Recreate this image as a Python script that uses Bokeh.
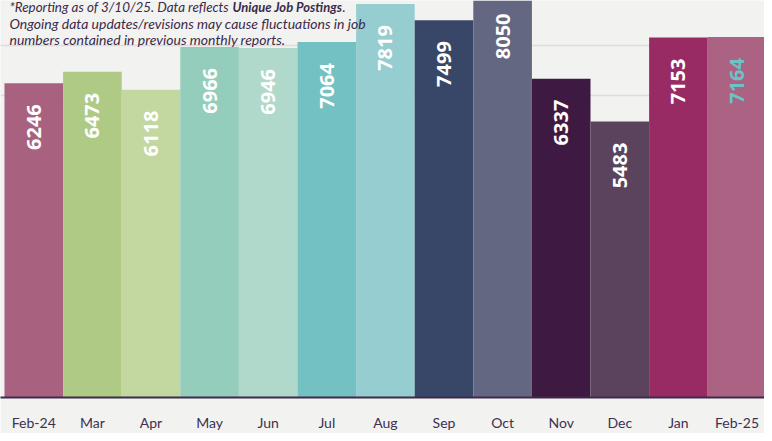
import math
from bokeh.plotting import figure
from bokeh.models import ColumnDataSource, Range1d, FixedTicker, Label
from bokeh.core.properties import value
from bokeh.embed import file_html
from bokeh.resources import INLINE

months = ["Feb-24", "Mar", "Apr", "May", "Jun", "Jul", "Aug", "Sep", "Oct", "Nov", "Dec", "Jan", "Feb-25"]
postings = [6246, 6473, 6118, 6966, 6946, 7064, 7819, 7499, 8050, 6337, 5483, 7153, 7164]
bar_colors = ["#a8617f", "#afca85", "#c2d8a0", "#94cdbc", "#b0d9cb", "#74c1c3", "#95cdd0",
              "#384767", "#636782", "#3e1a42", "#5b435e", "#982b63", "#ab6283"]
label_colors = ["white"] * 12 + ["#6cc3c6"]
grid_values = [6000, 7000]

xs = list(range(len(months)))
src = ColumnDataSource(dict(x=xs, top=postings, color=bar_colors,
                            label=[str(v) for v in postings], lcolor=label_colors))

BG = "#f2f2f0"
p = figure(width=764, height=433, output_backend="svg", toolbar_location=None,
           x_range=Range1d(-0.568, 12.469), y_range=Range1d(0, 7890),
           min_border_left=0, min_border_right=0, min_border_top=0, min_border_bottom=36)
p.background_fill_color = BG
p.border_fill_color = BG
p.outline_line_color = None

p.vbar(x="x", top="top", bottom=0, width=1.0, color="color", line_color=None, source=src)
p.text(x="x", y="top", text="label", text_color="lcolor", angle=math.pi / 2,
       text_align="right", text_baseline="middle", y_offset=21,
       text_font=value("Open Sans"), text_font_style="bold", text_font_size="20px", source=src)

p.yaxis.visible = False
p.ygrid.ticker = FixedTicker(ticks=grid_values)
p.ygrid.grid_line_color = "#dcdcdc"
p.ygrid.grid_line_width = 1.5
p.xgrid.visible = False

ax = p.xaxis[0]
ax.ticker = FixedTicker(ticks=xs)
ax.major_label_overrides = {i: m for i, m in enumerate(months)}
ax.major_tick_line_color = None
ax.minor_tick_line_color = None
ax.axis_line_color = "#3d2b4a"
ax.axis_line_width = 2
ax.major_label_standoff = 10
ax.major_label_text_font = "Lato"
ax.major_label_text_font_size = "14px"
ax.major_label_text_color = "#3d3050"

note_color = "#3b2a4a"
k = 0.05032
def ydata(page_y):
    return (405.5 - page_y) / k
def xdata(page_x):
    return -0.5 + (page_x - 12) / 58.6

common = dict(text_font="Lato", text_color=note_color, text_baseline="alphabetic")
p.add_layout(Label(x=xdata(17), y=ydata(15), text="*Reporting as of 3/10/25. Data reflects",
                   text_font_style="italic", text_font_size="13.4px", **common))
p.add_layout(Label(x=xdata(240), y=ydata(15), text="Unique Job Postings",
                   text_font_style="bold italic", text_font_size="13px", **common))
p.add_layout(Label(x=xdata(350), y=ydata(15), text=".",
                   text_font_style="italic", text_font_size="13.4px", **common))
p.add_layout(Label(x=xdata(17), y=ydata(31),
                   text="Ongoing data updates/revisions may cause fluctuations in job",
                   text_font_style="italic", text_font_size="14px", **common))
p.add_layout(Label(x=xdata(17), y=ydata(47),
                   text="numbers contained in previous monthly reports.",
                   text_font_style="italic", text_font_size="14px", **common))

open("out.html", "w").write(file_html(p, INLINE))
